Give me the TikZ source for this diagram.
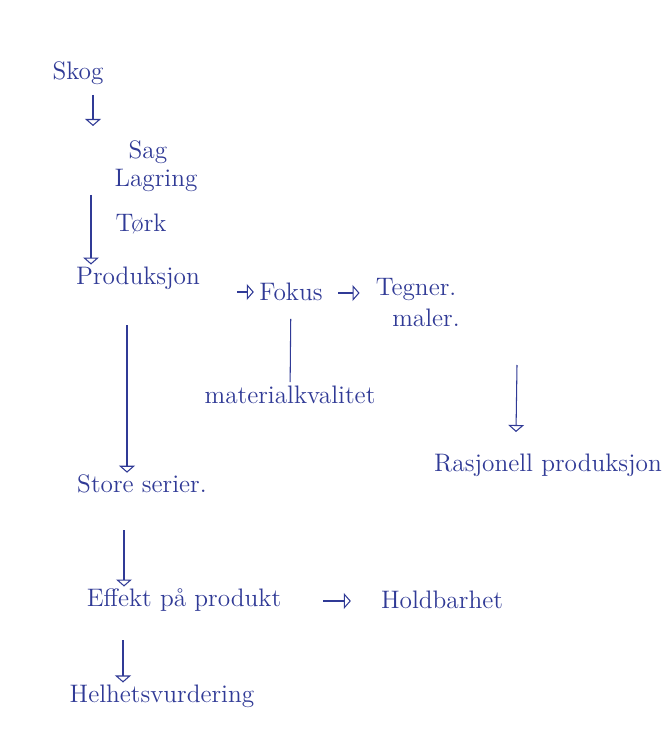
\documentclass[tikz,border=0pt]{standalone}
\usetikzlibrary{arrows.meta}
\definecolor{ink}{RGB}{48,58,150}
\tikzset{
  txt/.style={text=ink,font=\Large,inner sep=1pt},
  arr/.style={draw=ink,line width=.6pt,-{Triangle[open,length=4pt,width=9pt]}},
  ln/.style={draw=ink,line width=.6pt}
}
\begin{document}
\begin{tikzpicture}[x=.02cm,y=-.02cm]
\useasboundingbox[fill=white](0,0) rectangle (665,733);
\node[txt] (skog) at(78,73){Skog};
\node[txt] (sag) at(148,152){Sag};
\node[txt] (lagring) at(156,180){Lagring};
\node[txt] (tork) at(141,224){Tørk};
\node[txt] (prod) at(138,278){Produksjon};
\node[txt] (fokus) at(291,292){Fokus};
\node[txt] (tegner) at(416,290){Tegner.};
\node[txt] (maler) at(426,318){maler.};
\node[txt] (mat) at(290,395){materialkvalitet};
\node[txt] (store) at(142,484){Store serier.};
\node[txt] (rasj) at(548,465){Rasjonell produksjon};
\node[txt] (effekt) at(184,600){Effekt på produkt};
\node[txt] (hold) at(442,600){Holdbarhet};
\node[txt] (helhet) at(162,696){Helhetsvurdering};
% pilstart
\coordinate (s1) at(93,95);
\coordinate (s2) at(93,126);
\coordinate (t1) at(91,195);
\coordinate (a1) at(237,292);
\coordinate (a2) at(338,293);
\coordinate (p1) at(127,325);
\coordinate (r1) at(517,365);
\coordinate (r2) at(516,432);
\coordinate (e1) at(124,530);
\coordinate (a3) at(323,601);
\coordinate (h1) at(123,640);
\draw[arr](s1)--(s2);
\draw[arr](t1)--(t1|-prod.north);
\draw[arr,shorten >=2pt](a1)--(a1-|fokus.west);
\draw[arr,shorten >=8pt](a2)--(a2-|tegner.west);
\draw[ln,shorten <=9pt,shorten >=1pt](fokus)--(mat);
\draw[arr](p1)--(p1|-store.north);
\draw[arr](r1)--(r2);
\draw[arr](e1)--(e1|-effekt.north);
\draw[arr,shorten >=16pt](a3)--(a3-|hold.west);
\draw[arr](h1)--(h1|-helhet.north);
\end{tikzpicture}
\end{document}
